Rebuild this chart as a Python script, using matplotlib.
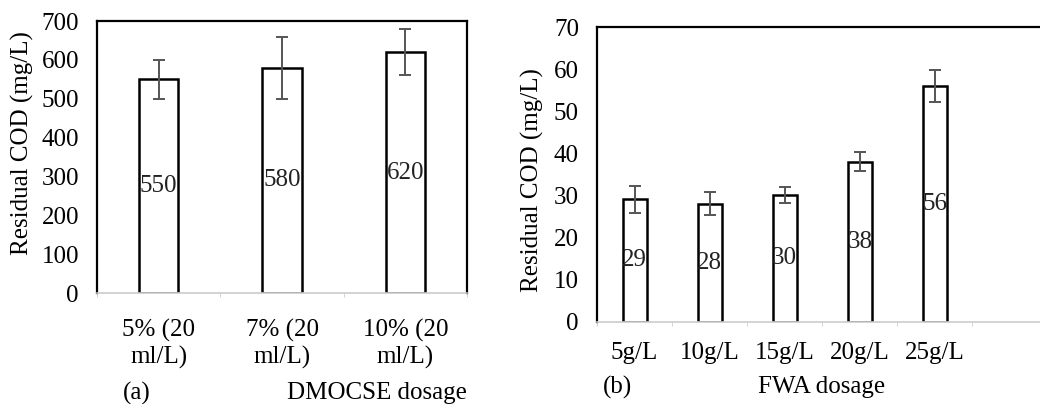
import numpy as np
import matplotlib
matplotlib.use("Agg")
import matplotlib.pyplot as plt

plt.rcParams['font.family'] = ['Liberation Serif', 'DejaVu Serif']

# panel (a)
a_labels = ["5% (20\nml/L)", "7% (20\nml/L)", "10% (20\nml/L)"]
a_values = [550, 580, 620]
a_errors = [50, 80, 60]

# panel (b)
b_labels = ["5g/L", "10g/L", "15g/L", "20g/L", "25g/L"]
b_values = [29, 28, 30, 38, 56]
b_errors = [3.2, 2.8, 1.9, 2.3, 3.8]

W, H = 1040, 404
FS = 18
fig = plt.figure(figsize=(W / 100, H / 100), dpi=100)


def px_axes(x0, y0, x1, y1):
    return fig.add_axes([x0 / W, 1 - y1 / H, (x1 - x0) / W, (y1 - y0) / H])


def style(ax, xpad, right_spine=True):
    for s in ["left", "top", "right"]:
        ax.spines[s].set_color("black")
        ax.spines[s].set_linewidth(1.6)
    ax.spines["right"].set_visible(right_spine)
    ax.spines["bottom"].set_color("#cccccc")
    ax.spines["bottom"].set_linewidth(1.2)
    ax.tick_params(axis="y", length=0, labelsize=FS, pad=13)
    ax.tick_params(axis="x", which="major", length=0, labelsize=FS, pad=xpad)
    ax.tick_params(axis="x", which="minor", length=3, color="#cccccc")


def bars(ax, labels, values, errors):
    x = np.arange(len(labels))
    ax.bar(x, values, width=0.32, color="white", edgecolor="black",
           linewidth=1.8, zorder=2)
    ax.errorbar(x, values, yerr=errors, fmt="none", ecolor="#555555",
                elinewidth=1.4, capsize=4.5, capthick=1.4, zorder=3)
    for xi, v in zip(x, values):
        ax.text(xi, v / 2, str(v), ha="center", va="center", fontsize=FS,
                color="#222222", zorder=4)
    ax.set_xticks(x)
    ax.set_xticklabels(labels)
    ax.set_xticks(np.arange(len(labels) + 1) - 0.5, minor=True)


# ---- (a) ----
ax1 = px_axes(97, 21, 467, 293)
bars(ax1, a_labels, a_values, a_errors)
ax1.set_xlim(-0.5, 2.5)
ax1.set_ylim(0, 700)
ax1.set_yticks(np.arange(0, 701, 100))
style(ax1, xpad=19)
for t in ax1.get_xticklabels():
    t.set_linespacing(1.2)
fig.text(22 / W, 1 - 143 / H, "Residual COD (mg/L)", rotation=90,
         ha="center", va="center", fontsize=FS)
fig.text(137 / W, 1 - 393 / H, "(a)", ha="center", va="center", fontsize=FS)
fig.text(377 / W, 1 - 393 / H, "DMOCSE dosage", ha="center", va="center",
         fontsize=FS)

# ---- (b) ----
ax2 = px_axes(597, 27, W, 321.5)
bars(ax2, b_labels, b_values, b_errors)
ax2.set_xlim(-0.5, 5.4)
ax2.set_ylim(0, 70)
ax2.set_yticks(np.arange(0, 71, 10))
style(ax2, xpad=15, right_spine=False)
fig.text(532 / W, 1 - 180 / H, "Residual COD (mg/L)", rotation=90,
         ha="center", va="center", fontsize=FS)
fig.text(617 / W, 1 - 387 / H, "(b)", ha="center", va="center", fontsize=FS)
fig.text(822 / W, 1 - 387 / H, "FWA dosage", ha="center", va="center",
         fontsize=FS)

fig.savefig("out.png", dpi=100)
